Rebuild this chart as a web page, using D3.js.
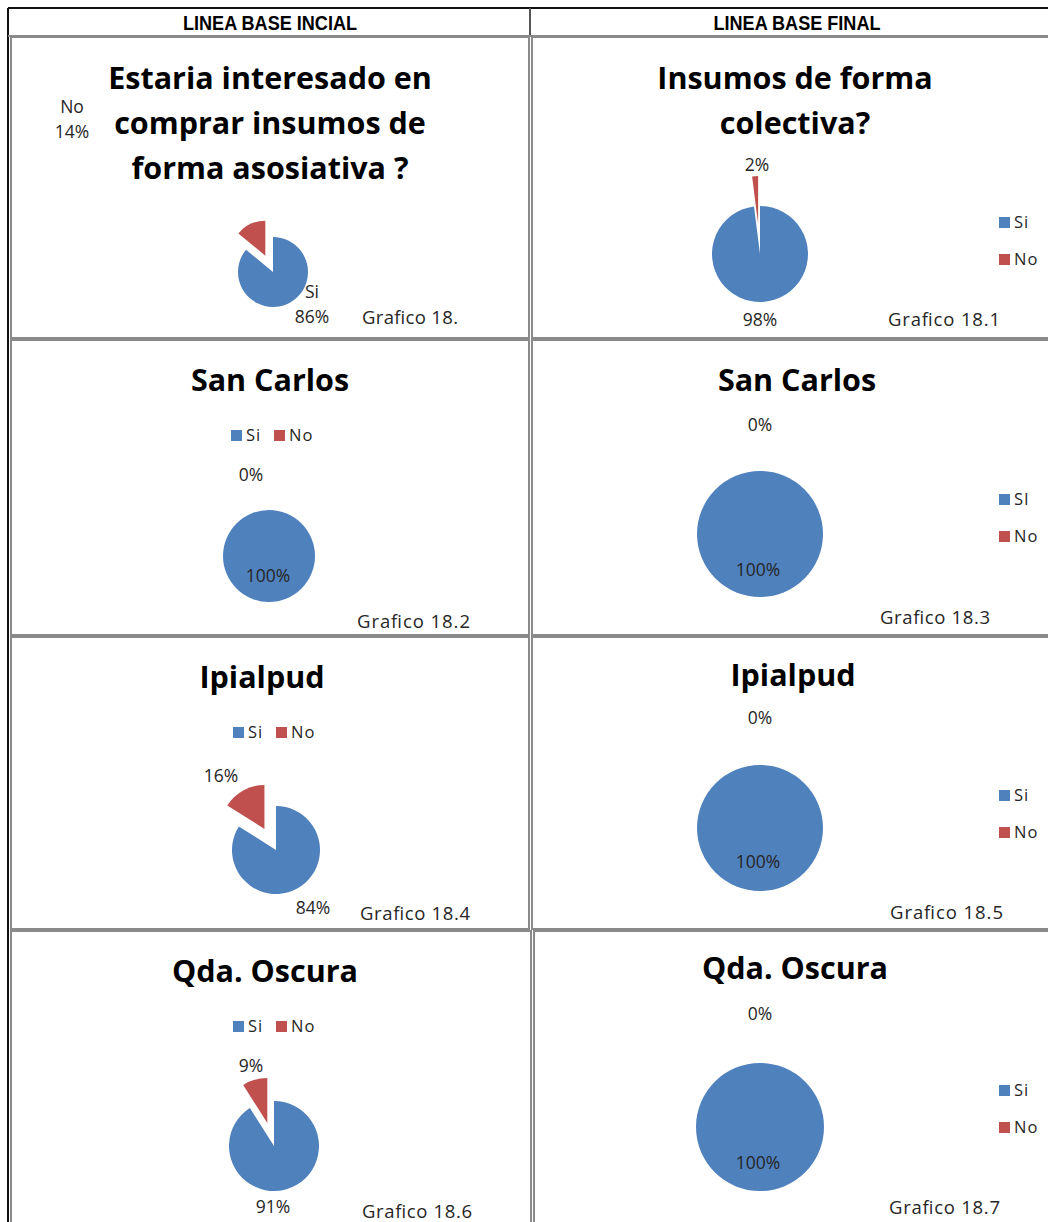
<!DOCTYPE html>
<html><head><meta charset="utf-8">
<script src="https://cdn.jsdelivr.net/npm/d3@7"></script>
<style>
html,body{margin:0;padding:0;background:#fff;}
svg{display:block;}
</style></head>
<body>
<svg id="chart" width="1048" height="1222"></svg>
<script>
// ---------------- DATA ----------------
const headers = ["LINEA BASE INCIAL", "LINEA BASE FINAL"];
const categories = ["Si", "No"];
const chartTitles = [
  ["Estaria interesado en", "comprar insumos de", "forma asosiativa ?"],
  ["Insumos de forma", "colectiva?"],
  ["San Carlos"], ["San Carlos"],
  ["Ipialpud"], ["Ipialpud"],
  ["Qda. Oscura"], ["Qda. Oscura"]
];
const siValues = [86, 98, 100, 100, 84, 100, 91, 100];
const noValues = [14, 2, 0, 0, 16, 0, 9, 0];
const captions = ["Grafico 18.", "Grafico 18.1", "Grafico 18.2", "Grafico 18.3",
                  "Grafico 18.4", "Grafico 18.5", "Grafico 18.6", "Grafico 18.7"];
const legendLabels = [
  null, ["Si", "No"], ["Si", "No"], ["SI", "No"],
  ["Si", "No"], ["Si", "No"], ["Si", "No"], ["Si", "No"]
];

// ---------------- LAYOUT ----------------
const colors = d3.scaleOrdinal().domain(categories).range(["#4F81BD", "#C0504D"]);
const layout = [
  {cx:273, cy:272, r:35, explode:18, titleX:270, titleY:77, lineH:45,
   legend:null, capX:362, capY:318,
   siLab:[312,292], noLab:[72,107], showCat:true},
  {cx:760, cy:254, r:48, explode:30, titleX:795, titleY:77, lineH:45,
   legend:{type:"v", x:999, y:222, gap:37}, capX:888, capY:320,
   siLab:[760,320], noLab:[757,165]},
  {cx:269, cy:556, r:46, explode:0, titleX:270, titleY:379,
   legend:{type:"h", x:231, y:435}, capX:357, capY:622,
   siLab:[268,576], noLab:[251,475]},
  {cx:760, cy:534, r:63, explode:0, titleX:797, titleY:379,
   legend:{type:"v", x:999, y:499, gap:37}, capX:880, capY:618,
   siLab:[758,570], noLab:[760,425]},
  {cx:276, cy:850, r:44, explode:24, titleX:262, titleY:676,
   legend:{type:"h", x:233, y:732}, capX:360, capY:914,
   siLab:[313,908], noLab:[221,776]},
  {cx:760, cy:828, r:63, explode:0, titleX:793, titleY:674,
   legend:{type:"v", x:999, y:795, gap:37}, capX:890, capY:913,
   siLab:[758,862], noLab:[760,718]},
  {cx:274, cy:1146, r:45, explode:24, titleX:265, titleY:970,
   legend:{type:"h", x:233, y:1026}, capX:362, capY:1212,
   siLab:[273,1207], noLab:[251,1066]},
  {cx:760, cy:1127, r:64, explode:0, titleX:795, titleY:967,
   legend:{type:"v", x:999, y:1090, gap:37}, capX:889, capY:1208,
   siLab:[758,1163], noLab:[760,1014]}
];
const captionWidths = [96, 112, 113, 110, 110, 113, 110, 111];
const boxes = [
  [11, 37, 529, 338], [532, 37, 1050, 338],
  [11, 340, 529, 635], [532, 340, 1050, 635],
  [11, 637, 529, 929], [532, 637, 1050, 929],
  [11, 931, 531, 1224], [534, 931, 1050, 1224]
];

const FONT = "'Open Sans', 'Noto Sans', sans-serif";
const TXT = "#262626";
const svg = d3.select("#chart");

// ---------- Table frame ----------
svg.append("g").selectAll("rect").data(boxes).join("rect")
  .attr("x", d => d[0]).attr("y", d => d[1])
  .attr("width", d => d[2] - d[0]).attr("height", d => d[3] - d[1])
  .attr("fill", "none").attr("stroke", "#8a8a8a").attr("stroke-width", 2);

const frame = svg.append("g").attr("stroke", "#111").attr("stroke-width", 2);
frame.append("line").attr("x1", 8).attr("x2", 1048).attr("y1", 8).attr("y2", 8);
frame.append("line").attr("x1", 8).attr("x2", 8).attr("y1", 8).attr("y2", 1222);
svg.append("line").attr("x1", 530).attr("x2", 530).attr("y1", 8).attr("y2", 36)
  .attr("stroke", "#555").attr("stroke-width", 2);
svg.append("line").attr("x1", 8).attr("x2", 1048).attr("y1", 36).attr("y2", 36)
  .attr("stroke", "#8a8a8a").attr("stroke-width", 2);

svg.append("g").selectAll("text").data(headers).join("text")
  .attr("x", (d, i) => i === 0 ? 270 : 797).attr("y", 23)
  .attr("text-anchor", "middle").attr("dominant-baseline", "central")
  .attr("font-family", "'Liberation Sans Narrow', 'Liberation Sans', sans-serif")
  .attr("font-weight", "bold").attr("font-size", 20)
  .attr("textLength", (d, i) => i === 0 ? 174 : 167).attr("lengthAdjust", "spacingAndGlyphs")
  .attr("fill", "#000").text(d => d);

// ---------- Charts ----------
const pie = d3.pie().sort(null).value(d => d.value).startAngle(0).endAngle(2 * Math.PI);
const fmt = d => d3.format(".0f")(d) + "%";

layout.forEach((L, i) => {
  const g = svg.append("g");
  const data = categories.map((c, k) => ({cat: c, value: k === 0 ? siValues[i] : noValues[i]}));
  const total = d3.sum(data, d => d.value);
  const arcs = pie(data);
  const arc = d3.arc().innerRadius(0).outerRadius(L.r);

  // title
  g.append("g").selectAll("text").data(chartTitles[i]).join("text")
    .attr("x", L.titleX).attr("y", (d, k) => L.titleY + k * (L.lineH || 45))
    .attr("text-anchor", "middle").attr("dominant-baseline", "central")
    .attr("font-family", FONT).attr("font-weight", "bold").attr("font-size", 30.5)
    .attr("fill", "#000").text(d => d);

  // slices
  g.append("g").selectAll("path").data(arcs.filter(a => a.value > 0)).join("path")
    .attr("transform", a => {
      let dx = 0, dy = 0;
      if (a.data.cat === "No" && L.explode) {
        const m = (a.startAngle + a.endAngle) / 2;
        dx = Math.sin(m) * L.explode; dy = -Math.cos(m) * L.explode;
      }
      return `translate(${L.cx + dx},${L.cy + dy})`;
    })
    .attr("d", arc).attr("fill", a => colors(a.data.cat));

  // data labels
  const labs = [
    {pos: L.siLab, cat: categories[0], v: data[0].value},
    {pos: L.noLab, cat: categories[1], v: data[1].value}
  ];
  labs.forEach(lb => {
    const t = g.append("text").attr("font-family", FONT).attr("font-size", 17.5)
      .attr("fill", TXT).attr("text-anchor", "middle");
    if (L.showCat) {
      t.append("tspan").attr("x", lb.pos[0]).attr("y", lb.pos[1]).attr("dy", "0.35em").text(lb.cat);
      t.append("tspan").attr("x", lb.pos[0]).attr("y", lb.pos[1] + 25).attr("dy", "0.35em")
        .text(fmt(lb.v / total * 100));
    } else {
      t.attr("x", lb.pos[0]).attr("y", lb.pos[1]).attr("dy", "0.35em").text(fmt(lb.v / total * 100));
    }
  });

  // legend
  if (L.legend) {
    const labels = legendLabels[i];
    const lg = g.append("g").attr("font-family", FONT).attr("font-size", 16.5).attr("fill", TXT);
    labels.forEach((lab, k) => {
      let x, y;
      if (L.legend.type === "v") { x = L.legend.x; y = L.legend.y + k * L.legend.gap; }
      else { x = L.legend.x + k * 43; y = L.legend.y; }
      lg.append("rect").attr("x", x).attr("y", y - 5).attr("width", 11).attr("height", 11)
        .attr("fill", colors(categories[k]));
      lg.append("text").attr("x", x + 15).attr("y", y).attr("dy", "0.35em")
        .attr("letter-spacing", 1).text(lab);
    });
  }

  // caption
  g.append("text").attr("x", L.capX).attr("y", L.capY).attr("dy", "0.35em")
    .attr("font-family", FONT).attr("font-size", 18.5).attr("fill", TXT)
    .attr("textLength", captionWidths[i]).attr("lengthAdjust", "spacing")
    .text(captions[i]);
});
</script>
</body></html>
